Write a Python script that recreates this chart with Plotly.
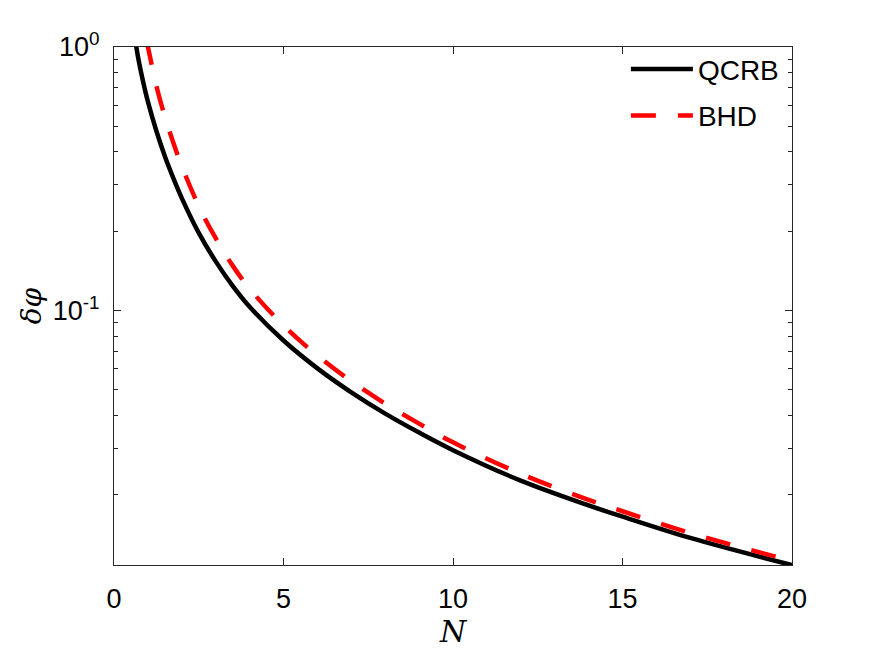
import plotly.graph_objects as go

# Data
N_qcrb = [0.60, 0.70, 0.80, 0.90, 1.00, 1.25, 1.50, 1.75, 2.00, 2.50, 3.00, 3.50, 4.00, 5.00,
          6.00, 7.00, 8.00, 9.00, 10.0, 12.0, 14.0, 15.0, 17.0, 20.0]
qcrb = [1.12, 0.93, 0.80, 0.70, 0.62, 0.48, 0.385, 0.318, 0.267, 0.197, 0.1536, 0.124, 0.1033,
        0.0769, 0.0603, 0.0489, 0.0406, 0.0344, 0.0295, 0.0226, 0.0182, 0.0165, 0.0137, 0.0108]

N_bhd = [0.95, 1.00, 1.25, 1.50, 1.75, 2.00, 2.50, 3.00, 3.50, 4.00, 5.00, 6.00, 7.00, 8.00,
         9.00, 10.0, 12.0, 14.0, 15.0, 17.0, 20.0]
bhd = [1.06, 1.00, 0.712, 0.544, 0.433, 0.353, 0.249, 0.188, 0.148, 0.121, 0.0877, 0.0674,
       0.0539, 0.0443, 0.0372, 0.0316, 0.0240, 0.0191, 0.0173, 0.0143, 0.0112]

x_ticks = [0, 5, 10, 15, 20]
y_ticks = [0.1, 1]
y_ticktext = ["10<sup>-1</sup>", "10<sup>0</sup>"]
y_minor = [0.02, 0.03, 0.04, 0.05, 0.06, 0.07, 0.08, 0.09, 0.2, 0.3, 0.4, 0.5, 0.6, 0.7, 0.8, 0.9]

fig = go.Figure()
fig.add_trace(go.Scatter(x=N_qcrb, y=qcrb, mode="lines", name="QCRB",
                         line=dict(color="black", width=4.5, shape="spline"),
                         legendgroup="a"))
fig.add_trace(go.Scatter(x=N_bhd, y=bhd, mode="lines", name="BHD",
                         line=dict(color="#ff0000", width=4.5, dash="25px,22px", shape="spline"),
                         legendgroup="b"))

axis_col = "#262626"
fig.update_layout(
    width=875, height=657,
    margin=dict(l=114, r=83, t=47, b=92),
    paper_bgcolor="white", plot_bgcolor="white",
    font=dict(family="Liberation Sans, Arial, sans-serif", size=27, color="black"),
    showlegend=True,
    legend=dict(x=0.755, y=1.005, xanchor="left", yanchor="top",
                bgcolor="rgba(0,0,0,0)", borderwidth=0, itemwidth=62,
                tracegroupgap=7, font=dict(size=28)),
    xaxis=dict(range=[0, 20], tickvals=x_ticks, ticks="inside", ticklen=7,
               tickcolor=axis_col, showline=True, linecolor=axis_col, linewidth=1,
               mirror="ticks", showgrid=False, zeroline=False, ticklabelstandoff=10,
               title=dict(text="<i>N</i>", font=dict(family="DejaVu Serif, serif", size=30),
                          standoff=6)),
    yaxis=dict(type="log", range=[-1.966, 0], tickvals=y_ticks, ticktext=y_ticktext,
               ticks="inside", ticklen=7, tickcolor=axis_col, showline=True,
               linecolor=axis_col, linewidth=1, mirror="ticks", showgrid=False,
               zeroline=False, ticklabelstandoff=8,
               minor=dict(tickvals=y_minor, ticks="inside", ticklen=4, tickcolor=axis_col,
                          showgrid=False)),
    annotations=[dict(text="<i>δφ</i>", xref="paper", yref="paper",
                      x=-0.122, y=0.5, xanchor="center", yanchor="middle",
                      textangle=-90, showarrow=False,
                      font=dict(family="DejaVu Serif, serif", size=28))],
)

fig.write_html("out.html")
